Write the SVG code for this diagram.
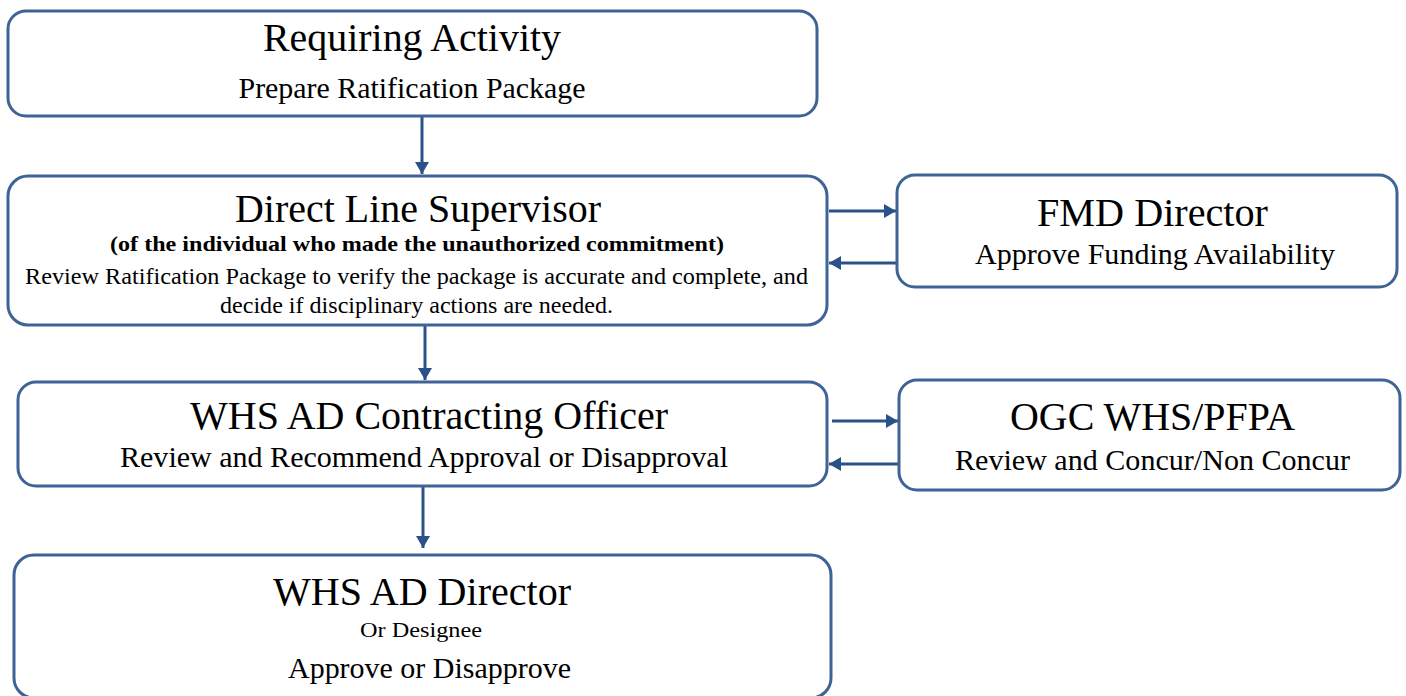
<svg xmlns="http://www.w3.org/2000/svg" width="1406" height="696" viewBox="0 0 1406 696">
<defs>
<style>
.box{fill:#ffffff;stroke:#3e6396;stroke-width:3}
.t{font-family:"Liberation Serif","Times New Roman",serif;fill:#000;text-anchor:middle}
.h{font-size:40px}
.s{font-size:30px}
.m{font-size:24px}
.b{font-size:21px;font-weight:bold}
.c{stroke:#2b5288;stroke-width:3;fill:none;marker-end:url(#ah)}
</style>
<marker id="ah" markerUnits="userSpaceOnUse" markerWidth="14" markerHeight="16" refX="12" refY="8" orient="auto">
<path d="M0,1 L12,8 L0,15 z" fill="#2b5288"/>
</marker>
</defs>
<rect width="1406" height="696" fill="#ffffff"/>
<g id="connectors">
<line class="c" x1="422" y1="117" x2="422" y2="174"/>
<line class="c" x1="425" y1="326" x2="425" y2="380"/>
<line class="c" x1="423" y1="487" x2="423" y2="548"/>
<line class="c" x1="829" y1="211" x2="896" y2="211"/>
<line class="c" x1="896" y1="263" x2="829" y2="263"/>
<line class="c" x1="832" y1="421" x2="898" y2="421"/>
<line class="c" x1="898" y1="464" x2="829" y2="464"/>
</g>
<g id="requiring-activity">
<rect class="box" x="8" y="11" width="809" height="105" rx="18"/>
<text class="t h" x="412" y="51" textLength="298" lengthAdjust="spacingAndGlyphs">Requiring Activity</text>
<text class="t s" x="412" y="98" textLength="347" lengthAdjust="spacingAndGlyphs">Prepare Ratification Package</text>
</g>
<g id="direct-line-supervisor">
<rect class="box" x="8" y="176" width="819" height="149" rx="20"/>
<text class="t h" x="418" y="222" textLength="366" lengthAdjust="spacingAndGlyphs">Direct Line Supervisor</text>
<text class="t b" x="417" y="251" textLength="614" lengthAdjust="spacingAndGlyphs">(of the individual who made the unauthorized commitment)</text>
<text class="t m" x="416.5" y="284" textLength="783" lengthAdjust="spacingAndGlyphs">Review Ratification Package to verify the package is accurate and complete, and</text>
<text class="t m" x="416.5" y="313" textLength="393" lengthAdjust="spacingAndGlyphs">decide if disciplinary actions are needed.</text>
</g>
<g id="fmd-director">
<rect class="box" x="897" y="175" width="500" height="112" rx="18"/>
<text class="t h" x="1152.5" y="226" textLength="231" lengthAdjust="spacingAndGlyphs">FMD Director</text>
<text class="t s" x="1155" y="264" textLength="360" lengthAdjust="spacingAndGlyphs">Approve Funding Availability</text>
</g>
<g id="whs-ad-contracting-officer">
<rect class="box" x="18" y="382" width="809" height="104" rx="18"/>
<text class="t h" x="429" y="429" textLength="478" lengthAdjust="spacingAndGlyphs">WHS AD Contracting Officer</text>
<text class="t s" x="424" y="467" textLength="608" lengthAdjust="spacingAndGlyphs">Review and Recommend Approval or Disapproval</text>
</g>
<g id="ogc-whs-pfpa">
<rect class="box" x="899" y="380" width="501" height="110" rx="18"/>
<text class="t h" x="1152.5" y="430" textLength="285" lengthAdjust="spacingAndGlyphs">OGC WHS/PFPA</text>
<text class="t s" x="1152.5" y="470" textLength="395" lengthAdjust="spacingAndGlyphs">Review and Concur/Non Concur</text>
</g>
<g id="whs-ad-director">
<rect class="box" x="14" y="555" width="817" height="143" rx="20"/>
<text class="t h" x="422" y="605" textLength="298" lengthAdjust="spacingAndGlyphs">WHS AD Director</text>
<text class="t" x="421" y="637" font-size="22" textLength="122" lengthAdjust="spacingAndGlyphs">Or Designee</text>
<text class="t s" x="429.5" y="678" textLength="283" lengthAdjust="spacingAndGlyphs">Approve or Disapprove</text>
</g>
</svg>
